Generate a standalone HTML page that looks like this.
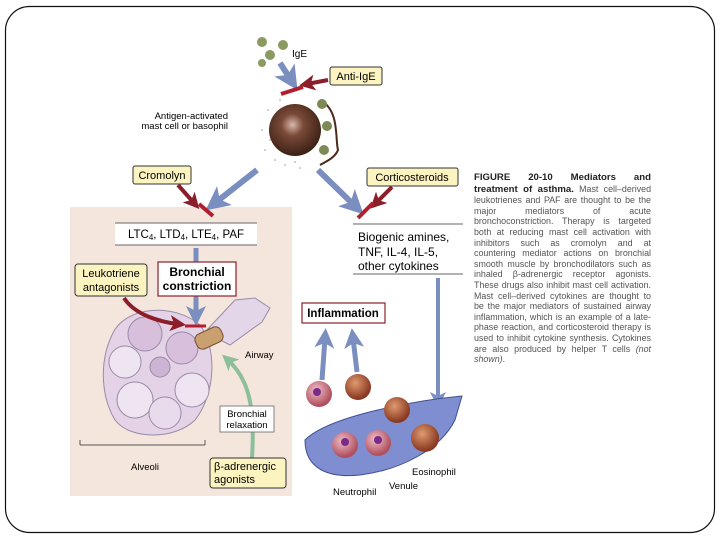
<!DOCTYPE html>
<html><head><meta charset="utf-8"><style>
html,body{margin:0;padding:0;background:#fff;}
svg{display:block;font-family:"Liberation Sans",sans-serif;}
.cap{position:absolute;left:474px;top:172px;width:177px;font-family:"Liberation Sans",sans-serif;font-size:8.9px;line-height:10.6px;color:#555;text-align:justify;}
.cap b{color:#222;font-size:9.6px;}
</style></head><body>
<div style="position:relative;width:720px;height:540px;">
<svg width="720" height="540" viewBox="0 0 720 540">
<defs>
<marker id="ab" markerWidth="4" markerHeight="4" refX="2" refY="2" orient="auto" markerUnits="strokeWidth"><path d="M0,0 L4,2 L0,4 L1,2Z" fill="#7a8fbf"/></marker>
<marker id="ar" markerWidth="4" markerHeight="4" refX="2" refY="2" orient="auto" markerUnits="strokeWidth"><path d="M0,0 L4,2 L0,4 L1,2Z" fill="#8b1e2a"/></marker>
<marker id="ag" markerWidth="4" markerHeight="4" refX="2" refY="2" orient="auto" markerUnits="strokeWidth"><path d="M0,0 L4,2 L0,4 L1,2Z" fill="#8cbf9a"/></marker>
<radialGradient id="cell" cx="0.45" cy="0.4" r="0.6"><stop offset="0" stop-color="#d9b8a8"/><stop offset="0.35" stop-color="#7a4a38"/><stop offset="1" stop-color="#3b2015"/></radialGradient>
<radialGradient id="eo" cx="0.4" cy="0.35" r="0.6"><stop offset="0" stop-color="#e09a70"/><stop offset="1" stop-color="#8a3a22"/></radialGradient>
<radialGradient id="ne" cx="0.4" cy="0.35" r="0.6"><stop offset="0" stop-color="#f0c0c8"/><stop offset="1" stop-color="#b05060"/></radialGradient>
</defs>
<rect x="5.5" y="6.5" width="709" height="526" rx="24" fill="none" stroke="#111" stroke-width="1.2"/>
<rect x="70" y="207" width="222" height="289" fill="#f5e6dd"/>
<!-- alveoli -->
<g stroke="#9a8aa8" stroke-width="1">
<path d="M205 332 L235 300 L255 298 L270 308 L262 322 L230 345 Z" fill="#e2d6e8"/>
<path d="M112 335 C125 305 175 303 200 325 C218 350 215 395 195 420 C175 440 130 440 115 420 C100 395 100 360 112 335Z" fill="#e4d2e6"/>
<circle cx="125" cy="362" r="16" fill="#efe5f0"/>
<circle cx="145" cy="334" r="17" fill="#d8bfdc"/>
<circle cx="182" cy="348" r="16" fill="#d8c0dc"/>
<circle cx="192" cy="390" r="17" fill="#efe5f0"/>
<circle cx="135" cy="400" r="18" fill="#efe5f0"/>
<circle cx="165" cy="413" r="16" fill="#e8dcec"/>
<circle cx="160" cy="367" r="10" fill="#cdb3d4"/>
</g>
<rect x="195" y="330" width="28" height="16" rx="6" fill="#c9a070" stroke="#7a5030" transform="rotate(-25 209 338)"/>
<!-- IgE -->
<g fill="#8a9a60"><circle cx="262" cy="42" r="5"/><circle cx="270" cy="55" r="5"/><circle cx="283" cy="45" r="5"/><circle cx="262" cy="63" r="4"/></g>
<text x="292" y="57" font-size="10">IgE</text>
<line x1="280" y1="63" x2="291" y2="80" stroke="#7a8fbf" stroke-width="6" marker-end="url(#ab)"/>
<line x1="328" y1="80" x2="307" y2="84" stroke="#8b1e2a" stroke-width="4" marker-end="url(#ar)"/>
<rect x="330" y="67" width="52" height="18" rx="2" fill="#fbf3c0" stroke="#333"/>
<text x="356" y="80" font-size="11" text-anchor="middle">Anti-IgE</text>
<line x1="281" y1="94" x2="303" y2="87" stroke="#b31e2e" stroke-width="4"/>
<!-- mast cell -->
<g fill="#999"><circle cx="268" cy="110" r="0.8"/><circle cx="262" cy="130" r="0.8"/><circle cx="265" cy="150" r="0.8"/><circle cx="275" cy="160" r="0.8"/><circle cx="285" cy="165" r="0.8"/><circle cx="295" cy="162" r="0.8"/><circle cx="270" cy="140" r="0.8"/><circle cx="280" cy="100" r="0.8"/><circle cx="300" cy="168" r="0.8"/></g>
<circle cx="295" cy="130" r="26" fill="url(#cell)"/>
<path d="M320 100 C340 110 335 140 338 150 C335 158 325 162 320 165" fill="none" stroke="#4a2a1a" stroke-width="2"/>
<g fill="#7d8a55"><circle cx="322" cy="104" r="5"/><circle cx="327" cy="126" r="5"/><circle cx="324" cy="150" r="5"/></g>
<text x="228" y="119" font-size="9.5" text-anchor="end">Antigen-activated</text>
<text x="228" y="129" font-size="9.5" text-anchor="end">mast cell or basophil</text>
<!-- main blue arrows -->
<line x1="257" y1="170" x2="215" y2="203" stroke="#7a8fbf" stroke-width="6" marker-end="url(#ab)"/>
<line x1="318" y1="170" x2="355" y2="206" stroke="#7a8fbf" stroke-width="6" marker-end="url(#ab)"/>
<!-- Cromolyn -->
<rect x="133" y="166" width="58" height="18" rx="2" fill="#fbf3c0" stroke="#333"/>
<text x="162" y="179" font-size="11" text-anchor="middle">Cromolyn</text>
<line x1="178" y1="185" x2="194" y2="203" stroke="#8b1e2a" stroke-width="4" marker-end="url(#ar)"/>
<line x1="199" y1="204" x2="213" y2="216" stroke="#b31e2e" stroke-width="4"/>
<!-- Corticosteroids -->
<rect x="367" y="168" width="91" height="18" rx="2" fill="#fbf3c0" stroke="#333"/>
<text x="412" y="181" font-size="11" text-anchor="middle">Corticosteroids</text>
<line x1="392" y1="187" x2="376" y2="203" stroke="#8b1e2a" stroke-width="4" marker-end="url(#ar)"/>
<line x1="373" y1="203" x2="358" y2="218" stroke="#b31e2e" stroke-width="4"/>
<!-- LTC box -->
<rect x="115" y="223" width="142" height="22" fill="#fff"/>
<line x1="115" y1="223" x2="257" y2="223" stroke="#666"/><line x1="115" y1="245" x2="257" y2="245" stroke="#666"/>
<text x="186" y="238" font-size="11.5" text-anchor="middle">LTC<tspan font-size="8" dy="2">4</tspan><tspan dy="-2">, LTD</tspan><tspan font-size="8" dy="2">4</tspan><tspan dy="-2">, LTE</tspan><tspan font-size="8" dy="2">4</tspan><tspan dy="-2">, PAF</tspan></text>
<!-- Biogenic -->
<rect x="353" y="224" width="110" height="50" fill="#fff"/>
<line x1="353" y1="224" x2="463" y2="224" stroke="#666"/><line x1="353" y1="274" x2="463" y2="274" stroke="#666"/>
<text x="358" y="241" font-size="12">Biogenic amines,</text>
<text x="358" y="256" font-size="12">TNF, IL-4, IL-5,</text>
<text x="358" y="270" font-size="12">other cytokines</text>
<line x1="438" y1="278" x2="438" y2="400" stroke="#7a8fbf" stroke-width="4" marker-end="url(#ab)"/>
<!-- bronchial constriction -->
<line x1="196" y1="248" x2="196" y2="316" stroke="#7a8fbf" stroke-width="5" marker-end="url(#ab)"/>
<rect x="158" y="262" width="78" height="34" fill="#fff" stroke="#8b1e2a" stroke-width="1.2"/>
<text x="197" y="276" font-size="12" font-weight="bold" text-anchor="middle">Bronchial</text>
<text x="197" y="290" font-size="12" font-weight="bold" text-anchor="middle">constriction</text>
<rect x="75" y="264" width="72" height="32" rx="3" fill="#fbf3c0" stroke="#333"/>
<text x="111" y="277" font-size="11" text-anchor="middle">Leukotriene</text>
<text x="111" y="291" font-size="11" text-anchor="middle">antagonists</text>
<path d="M124 298 C135 315 160 322 178 324" fill="none" stroke="#8b1e2a" stroke-width="4" marker-end="url(#ar)"/>
<line x1="185" y1="326" x2="206" y2="326" stroke="#b31e2e" stroke-width="3"/>
<text x="245" y="358" font-size="9.5">Airway</text>
<line x1="80" y1="445" x2="80" y2="440" stroke="#555"/><line x1="80" y1="445" x2="205" y2="445" stroke="#555"/><line x1="205" y1="445" x2="205" y2="440" stroke="#555"/>
<text x="145" y="470" font-size="9.5" text-anchor="middle">Alveoli</text>
<path d="M252 458 C255 410 250 380 228 360" fill="none" stroke="#8cbf9a" stroke-width="4" marker-end="url(#ag)"/>
<rect x="220" y="406" width="54" height="26" fill="#fff" stroke="#666" stroke-width="0.8"/>
<text x="247" y="417" font-size="9.5" text-anchor="middle">Bronchial</text>
<text x="247" y="428" font-size="9.5" text-anchor="middle">relaxation</text>
<rect x="210" y="458" width="76" height="30" rx="3" fill="#fbf3c0" stroke="#333"/>
<text x="214" y="470" font-size="11">β-adrenergic</text>
<text x="214" y="483" font-size="11">agonists</text>
<!-- inflammation -->
<rect x="302" y="303" width="83" height="20" fill="#fff" stroke="#8b1e2a" stroke-width="1.2"/>
<text x="343" y="317" font-size="11.5" font-weight="bold" text-anchor="middle">Inflammation</text>
<line x1="322" y1="380" x2="325" y2="338" stroke="#7a8fbf" stroke-width="5" marker-end="url(#ab)"/>
<line x1="357" y1="372" x2="353" y2="338" stroke="#7a8fbf" stroke-width="5" marker-end="url(#ab)"/>
<!-- venule -->
<path d="M305 440 C330 415 420 400 462 396 L455 420 C440 450 400 470 360 475 C330 478 305 470 305 440 Z" fill="#7f8ed0" stroke="#3f4f90"/>
<circle cx="319" cy="394" r="13" fill="url(#ne)"/>
<circle cx="358" cy="387" r="13" fill="url(#eo)"/>
<circle cx="397" cy="410" r="13" fill="url(#eo)"/>
<circle cx="345" cy="445" r="13" fill="url(#ne)"/>
<circle cx="378" cy="443" r="13" fill="url(#ne)"/>
<circle cx="425" cy="438" r="14" fill="url(#eo)"/>
<g fill="#7a2a8a"><circle cx="317" cy="392" r="4"/><circle cx="345" cy="442" r="4"/><circle cx="378" cy="440" r="4"/></g>
<text x="412" y="475" font-size="9.5">Eosinophil</text>
<text x="389" y="489" font-size="9.5">Venule</text>
<text x="333" y="495" font-size="9.5">Neutrophil</text>
</svg>
<div class="cap"><b>FIGURE 20-10 Mediators and treatment of asthma.</b> Mast cell–derived leukotrienes and PAF are thought to be the major mediators of acute bronchoconstriction. Therapy is targeted both at reducing mast cell activation with inhibitors such as cromolyn and at countering mediator actions on bronchial smooth muscle by bronchodilators such as inhaled β-adrenergic receptor agonists. These drugs also inhibit mast cell activation. Mast cell–derived cytokines are thought to be the major mediators of sustained airway inflammation, which is an example of a late-phase reaction, and corticosteroid therapy is used to inhibit cytokine synthesis. Cytokines are also produced by helper T cells <i>(not shown)</i>.</div>
</div>
</body></html>
